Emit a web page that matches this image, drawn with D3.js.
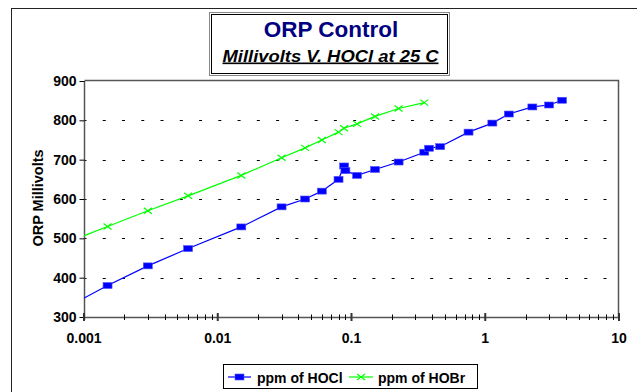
<!DOCTYPE html>
<html lang="en">
<head>
    <meta charset="UTF-8">
    <title>ORP Control</title>
    <script src="https://cdn.jsdelivr.net/npm/d3@7"></script>
    <style>
        body { margin: 0; background: #fff; }
        text { font-family: "Liberation Sans", Arial, sans-serif; font-weight: bold; }
    </style>
</head>
<body>
</body>
</html>
<script>
    //HOCl series (ppm, mV)
    var hocl_ppm = [0.00075, 0.0015, 0.003, 0.006, 0.015, 0.03, 0.045, 0.06, 0.08, 0.088, 0.09,
        0.11, 0.15, 0.225, 0.35, 0.38, 0.46, 0.75, 1.13, 1.5, 2.25, 3.0, 3.75];
    var hocl_mv = [325, 380, 430, 474, 529, 580, 600, 620, 650, 684, 672,
        660, 675, 694, 719, 729, 733, 770, 793, 816, 834, 839, 851];
    //HOBr series
    var hobr_ppm = [0.00075, 0.0015, 0.003, 0.006, 0.015, 0.03, 0.045, 0.06, 0.08, 0.088, 0.11, 0.15, 0.225, 0.35];
    var hobr_mv = [490, 530, 570, 608, 660, 705, 730, 750, 770, 780, 791, 810, 830, 845];
    //axis ticks
    var x_ticks = [0.001, 0.01, 0.1, 1, 10];
    var x_labels = ["0.001", "0.01", "0.1", "1", "10"];
    var y_ticks = [300, 400, 500, 600, 700, 800, 900];
    var series_names = ["ppm of HOCl", "ppm of HOBr"];

    var width = 637;
    var height = 392;
    //plot area edges ("top" is taken by window.top, so use other names)
    var p_left = 84, p_right = 619, p_top = 81, p_bottom = 317;

    var svg = d3.select("body")
            .append("svg")
            .attr("width", width)
            .attr("height", height);

    //outer chart frame (cut off on the right and bottom)
    svg.append("rect")
            .attr("x", 11.5).attr("y", 8.5)
            .attr("width", 660).attr("height", 420)
            .attr("fill", "#fff")
            .attr("stroke", "#222");

    var x = d3.scaleLog().domain([0.001, 10]).range([p_left, p_right]);
    var y = d3.scaleLinear().domain([300, 900]).range([p_bottom, p_top]);

    //dashed grid
    svg.append("g")
            .selectAll("line")
            .data(y_ticks.filter(function (d) { return d > 300 && d < 900; }))
            .enter().append("line")
            .attr("x1", p_left).attr("x2", p_right)
            .attr("y1", function (d) { return Math.round(y(d)) + 0.5; })
            .attr("y2", function (d) { return Math.round(y(d)) + 0.5; })
            .attr("stroke", "#000")
            .attr("stroke-dasharray", "3,16.26")
            .attr("stroke-dashoffset", 0.5);

    //plot frame top/right
    svg.append("path")
            .attr("d", "M" + (p_left + 0.5) + "," + (p_top - 0.5) + "H" + (p_right - 0.5) + "V" + (p_bottom + 0.5))
            .attr("fill", "none")
            .attr("stroke", "#555")
            .attr("stroke-width", 1.5);

    //y axis
    var y_axis = d3.axisLeft(y).tickValues(y_ticks).tickSize(5).tickPadding(3);
    var gy = svg.append("g")
            .attr("transform", "translate(" + (p_left + 0.5) + ",0)")
            .call(y_axis);
    gy.select(".domain").attr("stroke", "#555").attr("stroke-width", 1.5)
            .attr("d", "M0," + p_top + "V" + (p_bottom + 3));
    gy.selectAll(".tick line").attr("stroke", "#000");
    gy.selectAll("text").attr("font-size", 14).attr("fill", "#000")
            .style("font-family", "'Liberation Sans', Arial, sans-serif");

    //x axis: log ticks crossing the axis line
    var minor = [];
    for (var e = -3; e < 1; e++) {
        for (var m = 2; m < 10; m++) minor.push(m * Math.pow(10, e));
    }
    var gx = svg.append("g");
    gx.append("line")
            .attr("x1", p_left).attr("x2", p_right)
            .attr("y1", p_bottom + 0.5).attr("y2", p_bottom + 0.5)
            .attr("stroke", "#555").attr("stroke-width", 1.5);
    gx.selectAll("line.minor")
            .data(minor)
            .enter().append("line")
            .attr("class", "minor")
            .attr("x1", function (d) { return Math.round(x(d)) + 0.5; })
            .attr("x2", function (d) { return Math.round(x(d)) + 0.5; })
            .attr("y1", p_bottom - 2.5).attr("y2", p_bottom + 3)
            .attr("stroke", "#000");
    gx.selectAll("line.major")
            .data(x_ticks)
            .enter().append("line")
            .attr("class", "major")
            .attr("x1", function (d) { return x(d); })
            .attr("x2", function (d) { return x(d); })
            .attr("y1", p_bottom - 4).attr("y2", p_bottom + 4)
            .attr("stroke", "#333")
            .attr("stroke-width", 2);
    gx.selectAll("text")
            .data(x_ticks)
            .enter().append("text")
            .attr("x", function (d) { return x(d); })
            .attr("y", 343)
            .attr("text-anchor", "middle")
            .attr("font-size", 14)
            .text(function (d, i) { return x_labels[i]; });

    //y axis title
    svg.append("text")
            .attr("transform", "translate(43,198) rotate(-90)")
            .attr("text-anchor", "middle")
            .attr("font-size", 14.5)
            .text("ORP Millivolts");

    //clip for series
    svg.append("clipPath").attr("id", "plot")
            .append("rect")
            .attr("x", p_left).attr("y", p_top - 6)
            .attr("width", p_right - p_left).attr("height", p_bottom - p_top + 6);

    var hocl = hocl_ppm.map(function (d, i) { return {x: d, y: hocl_mv[i]}; });
    var hobr = hobr_ppm.map(function (d, i) { return {x: d, y: hobr_mv[i]}; });

    var line = d3.line()
            .x(function (d) { return x(d.x); })
            .y(function (d) { return y(d.y); });

    var plot = svg.append("g").attr("clip-path", "url(#plot)");

    plot.append("path").datum(hobr)
            .attr("d", line)
            .attr("fill", "none")
            .attr("stroke", "#00ff00")
            .attr("stroke-width", 1.2);
    plot.append("path").datum(hocl)
            .attr("d", line)
            .attr("fill", "none")
            .attr("stroke", "#0000ff")
            .attr("stroke-width", 1.2);

    function xMark(g, cx, cy) {
        g.append("path")
                .attr("d", "M" + (cx - 4) + "," + (cy - 3) + "L" + (cx + 4) + "," + (cy + 3) +
                        "M" + (cx - 4) + "," + (cy + 3) + "L" + (cx + 4) + "," + (cy - 3))
                .attr("stroke", "#00ff00")
                .attr("stroke-width", 1.2)
                .attr("fill", "none");
    }
    function sqMark(g, cx, cy) {
        g.append("rect")
                .attr("x", cx - 4.5).attr("y", cy - 3)
                .attr("width", 9).attr("height", 6)
                .attr("fill", "#0000ff")
                .attr("stroke", "#5555ff")
                .attr("stroke-width", 0.6);
    }

    hobr.forEach(function (d) { xMark(plot, x(d.x), y(d.y)); });
    hocl.forEach(function (d) { sqMark(plot, x(d.x), y(d.y)); });

    //title box
    svg.append("rect")
            .attr("x", 209.5).attr("y", 12.5)
            .attr("width", 240).attr("height", 63)
            .attr("fill", "#fff")
            .attr("stroke", "#888");
    svg.append("rect")
            .attr("x", 211.5).attr("y", 14.5)
            .attr("width", 236).attr("height", 59)
            .attr("fill", "none")
            .attr("stroke", "#000");
    svg.append("text")
            .attr("x", 331).attr("y", 37)
            .attr("text-anchor", "middle")
            .attr("font-size", 22.5)
            .attr("fill", "#000080")
            .text("ORP Control");
    svg.append("text")
            .attr("x", 330.5).attr("y", 61.5)
            .attr("text-anchor", "middle")
            .attr("font-size", 16.5)
            .attr("font-style", "italic")
            .attr("textLength", 216)
            .attr("lengthAdjust", "spacingAndGlyphs")
            .style("text-decoration", "underline")
            .text("Millivolts V. HOCl at 25 C");

    //legend
    var lg = svg.append("g");
    lg.append("rect")
            .attr("x", 223.5).attr("y", 364.5)
            .attr("width", 254).attr("height", 24)
            .attr("fill", "#fff")
            .attr("stroke", "#000");
    lg.append("line").attr("x1", 228).attr("x2", 251).attr("y1", 377).attr("y2", 377)
            .attr("stroke", "#0000ff").attr("stroke-width", 1.2);
    sqMark(lg, 239.5, 377);
    lg.append("text").attr("x", 257).attr("y", 383).attr("font-size", 14).text(series_names[0]);
    lg.append("line").attr("x1", 349).attr("x2", 373).attr("y1", 377).attr("y2", 377)
            .attr("stroke", "#00ff00").attr("stroke-width", 1.2);
    xMark(lg, 361, 377);
    lg.append("text").attr("x", 378).attr("y", 383).attr("font-size", 14).text(series_names[1]);
</script>
